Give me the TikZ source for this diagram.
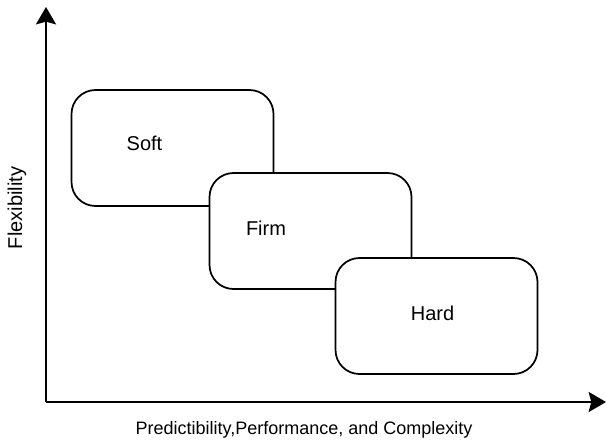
\documentclass[tikz,border=0pt]{standalone}
\usepackage{fontspec}
\setmainfont{Liberation Sans}
\usepackage{tikz}
\usetikzlibrary{arrows.meta,positioning}

\begin{document}
\begin{tikzpicture}[x=0.75pt,y=-0.75pt,font=\fontsize{13.5}{15}\selectfont,
  zone/.style={draw,fill=white,line width=1.3pt,rounded corners=18pt,minimum width=202*0.75pt,minimum height=116*0.75pt,inner sep=0pt},
  zonelbl/.style={font=\fontsize{15}{17}\selectfont},
  axis/.style={line width=1.8pt,-{Stealth[length=13pt,width=15pt,inset=2pt]}}]
  \useasboundingbox (0,0) rectangle (606,446);
  % axes
  \coordinate (origin) at (46,402);
  \coordinate (ytip) at (46,7);
  \coordinate (xtip) at (606,402);
  \draw[axis] (origin) -- (ytip);
  \draw[axis] (origin) -- (xtip);
  \node[rotate=90,font=\fontsize{15}{17}\selectfont] (ylbl) at (17,208) {Flexibility};
  \node (xlbl) at (304,430) {Predictibility,Performance, and Complexity};
  % overlapping regions
  \node[zone] (soft) at (172.5,148) {};
  \node[zone] (firm) at (310.5,231) {};
  \node[zone] (hard) at (436.5,316) {};
  \node[zonelbl] (softlbl) at (144.5,143) {Soft};
  \node[zonelbl] (firmlbl) at (266,228) {Firm};
  \node[zonelbl] (hardlbl) at (432.5,313) {Hard};
\end{tikzpicture}
\end{document}
